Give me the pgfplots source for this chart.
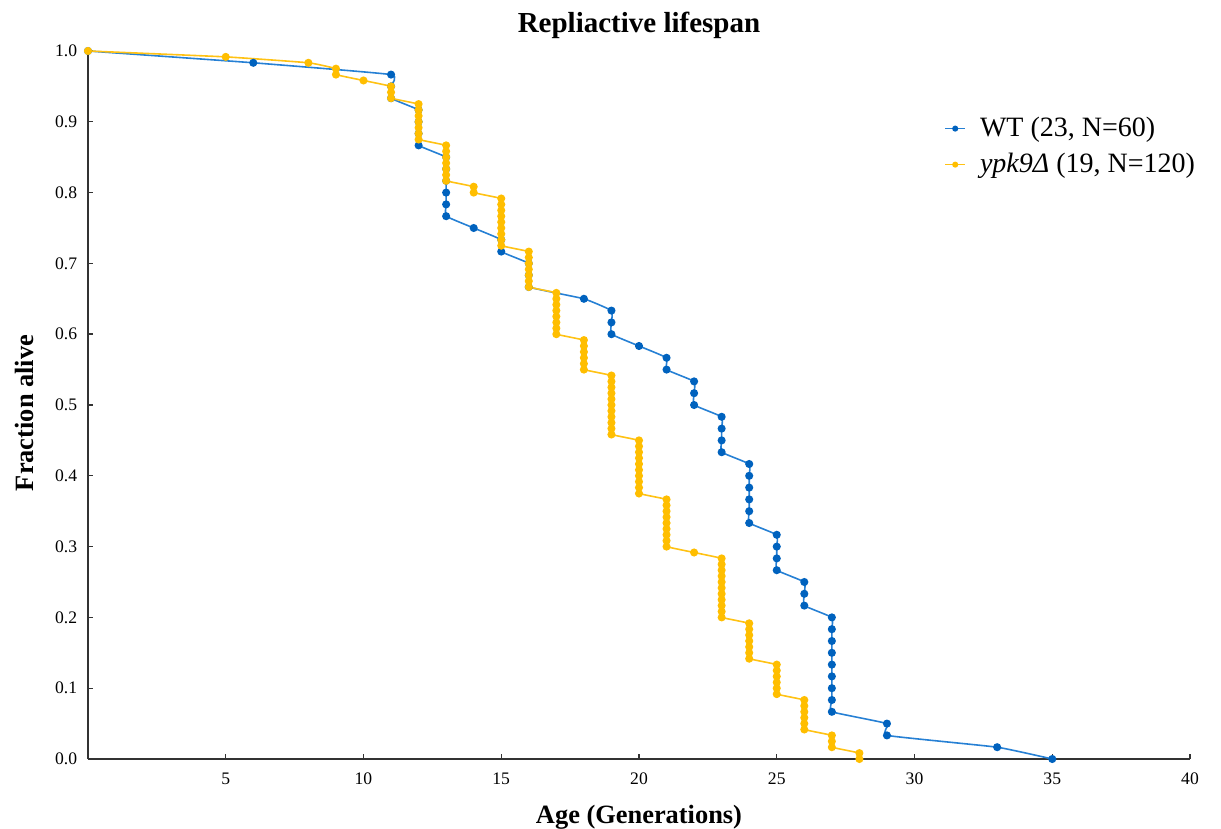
\documentclass[border=0pt]{standalone}
\usepackage{fontspec}
\setmainfont{Liberation Serif}
\usepackage{pgfplots}
\pgfplotsset{compat=1.18}
\definecolor{wtline}{RGB}{38,128,212}
\definecolor{wtmark}{RGB}{0,98,190}
\definecolor{ykline}{RGB}{255,194,20}
\definecolor{ykmark}{RGB}{255,190,0}
\begin{document}
\begin{tikzpicture}
\begin{axis}[
  scale only axis, width=551pt, height=354pt,
  xmin=0, xmax=40, ymin=0, ymax=1,
  clip=false,
  axis lines=left,
  axis line style={-, black!80, line width=0.7pt},
  tick align=inside, major tick length=2.5pt,
  tick style={black!80, line width=0.7pt},
  xtick={5,10,15,20,25,30,35,40},
  ytick={0,0.1,0.2,0.3,0.4,0.5,0.6,0.7,0.8,0.9,1.0},
  /pgf/number format/assume math mode=true,
  ticklabel style={font=\fontsize{8.8}{10}\selectfont},
  yticklabel style={/pgf/number format/fixed, /pgf/number format/fixed zerofill,
    /pgf/number format/precision=1, inner sep=0pt, xshift=-5.2pt},
  xticklabel style={inner sep=0pt, yshift=-6.8pt},
  every axis title shift=0pt,
  title={Repliactive lifespan},
  title style={font=\bfseries\fontsize{14.5}{17}\selectfont,
    at={(axis description cs:0.5,1.0268)}, anchor=base, inner sep=0pt},
  xlabel={Age (Generations)},
  xlabel style={font=\bfseries\fontsize{13.2}{16}\selectfont,
    at={(axis description cs:0.5,-0.0904)}, anchor=base, inner sep=0pt},
  ylabel={Fraction alive},
  ylabel style={font=\bfseries\fontsize{13.2}{16}\selectfont,
    at={(axis description cs:-0.0499,0.4887)}, anchor=base, inner sep=0pt},
  legend style={draw=none, fill=none, at={(axis description cs:0.7768,0.9096)},
    anchor=north west, inner sep=0pt, row sep=4.8pt, column sep=6pt,
    font=\fontsize{14}{16}\selectfont, nodes={inner sep=1pt}},
  legend cell align=left,
  legend image code/.code={\draw[mark repeat=2, mark phase=2, mark size=1.1pt]
    plot coordinates {(0pt,0pt) (5pt,0pt) (10pt,0pt)};},
]
% WT, N=60
\addplot[wtline, line width=0.8pt, smooth, tension=0.22, mark=*, mark size=1.6pt,
  mark options={draw=wtmark, fill=wtmark}] coordinates {
(0,1)
(6,0.98333)
(11,0.96667) (11,0.95) (11,0.93333)
(12,0.91667) (12,0.9) (12,0.88333) (12,0.86667)
(13,0.85) (13,0.83333) (13,0.81667) (13,0.8) (13,0.78333) (13,0.76667)
(14,0.75)
(15,0.73333) (15,0.71667)
(16,0.7) (16,0.68333) (16,0.66667)
(18,0.65)
(19,0.63333) (19,0.61667) (19,0.6)
(20,0.58333)
(21,0.56667) (21,0.55)
(22,0.53333) (22,0.51667) (22,0.5)
(23,0.48333) (23,0.46667) (23,0.45) (23,0.43333)
(24,0.41667) (24,0.4) (24,0.38333) (24,0.36667) (24,0.35) (24,0.33333)
(25,0.31667) (25,0.3) (25,0.28333) (25,0.26667)
(26,0.25) (26,0.23333) (26,0.21667)
(27,0.2) (27,0.18333) (27,0.16667) (27,0.15) (27,0.13333) (27,0.11667) (27,0.1) (27,0.08333) (27,0.06667)
(29,0.05) (29,0.03333)
(33,0.01667)
(35,0)
};
\addlegendentry{WT (23, N=60)}
% ypk9 delta, N=120
\addplot[ykline, line width=0.8pt, smooth, tension=0.22, mark=*, mark size=1.6pt,
  mark options={draw=ykmark, fill=ykmark}] coordinates {
(0,1)
(5,0.99167)
(8,0.98333)
(9,0.975) (9,0.96667)
(10,0.95833)
(11,0.95) (11,0.94167) (11,0.93333)
(12,0.925) (12,0.91667) (12,0.90833) (12,0.9) (12,0.89167) (12,0.88333) (12,0.875)
(13,0.86667) (13,0.85833) (13,0.85) (13,0.84167) (13,0.83333) (13,0.825) (13,0.81667)
(14,0.80833) (14,0.8)
(15,0.79167) (15,0.78333) (15,0.775) (15,0.76667) (15,0.75833) (15,0.75) (15,0.74167) (15,0.73333) (15,0.725)
(16,0.71667) (16,0.70833) (16,0.7) (16,0.69167) (16,0.68333) (16,0.675) (16,0.66667)
(17,0.65833) (17,0.65) (17,0.64167) (17,0.63333) (17,0.625) (17,0.61667) (17,0.60833) (17,0.6)
(18,0.59167) (18,0.58333) (18,0.575) (18,0.56667) (18,0.55833) (18,0.55)
(19,0.54167) (19,0.53333) (19,0.525) (19,0.51667) (19,0.50833) (19,0.5) (19,0.49167) (19,0.48333) (19,0.475) (19,0.46667) (19,0.45833)
(20,0.45) (20,0.44167) (20,0.43333) (20,0.425) (20,0.41667) (20,0.40833) (20,0.4) (20,0.39167) (20,0.38333) (20,0.375)
(21,0.36667) (21,0.35833) (21,0.35) (21,0.34167) (21,0.33333) (21,0.325) (21,0.31667) (21,0.30833) (21,0.3)
(22,0.29167)
(23,0.28333) (23,0.275) (23,0.26667) (23,0.25833) (23,0.25) (23,0.24167) (23,0.23333) (23,0.225) (23,0.21667) (23,0.20833) (23,0.2)
(24,0.19167) (24,0.18333) (24,0.175) (24,0.16667) (24,0.15833) (24,0.15) (24,0.14167)
(25,0.13333) (25,0.125) (25,0.11667) (25,0.10833) (25,0.1) (25,0.09167)
(26,0.08333) (26,0.075) (26,0.06667) (26,0.05833) (26,0.05) (26,0.04167)
(27,0.03333) (27,0.025) (27,0.01667)
(28,0.00833) (28,0)
};
\addlegendentry{\textit{ypk9Δ} (19, N=120)}
% page frame matching the reference proportions
\path (rel axis cs:-0.07985,-0.09605) rectangle (rel axis cs:1.02813,1.07203);
\end{axis}
\end{tikzpicture}
\end{document}
